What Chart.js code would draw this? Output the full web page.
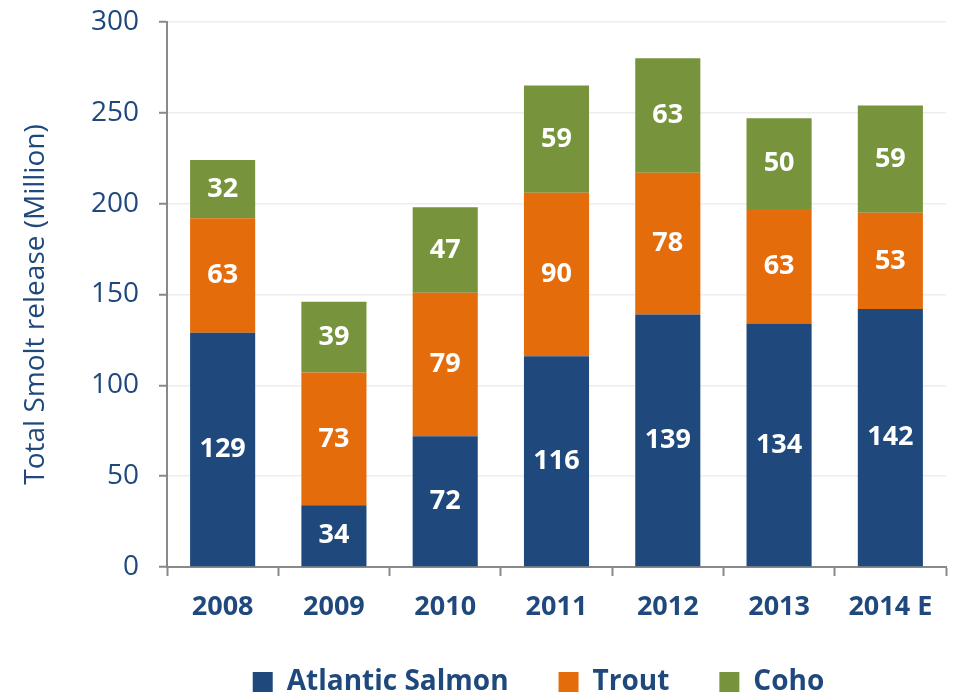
<!DOCTYPE html>
<html><head><meta charset="utf-8">
<script src="https://cdn.jsdelivr.net/npm/chart.js@4/dist/chart.umd.min.js"></script>
<style>html,body{margin:0;padding:0;background:#fff;overflow:hidden}</style>
</head><body>
<canvas id="c" width="957" height="693"></canvas>
<script>
const categories = ['2008', '2009', '2010', '2011', '2012', '2013', '2014 E'];
const atlanticSalmon = [129, 34, 72, 116, 139, 134, 142];
const trout = [63, 73, 79, 90, 78, 63, 53];
const coho = [32, 39, 47, 59, 63, 50, 59];
const yMin = 0, yMax = 300, yStep = 50;

const TEXT = '#1F497D';
const AXIS = '#898989';
const FONT = 'Open Sans';

const segLabels = {
  id: 'segLabels',
  afterDatasetsDraw(chart) {
    const ctx = chart.ctx;
    ctx.save();
    ctx.font = 'bold 27px "' + FONT + '"';
    ctx.fillStyle = '#FFFFFF';
    ctx.textAlign = 'center';
    ctx.textBaseline = 'middle';
    chart.data.datasets.forEach((ds, i) => {
      const meta = chart.getDatasetMeta(i);
      meta.data.forEach((bar, j) => {
        const p = bar.getProps(['x', 'y', 'base'], true);
        ctx.fillText(String(ds.data[j]), p.x, (p.y + p.base) / 2);
      });
    });
    ctx.restore();
  }
};

const LEG_DX = -18, LEG_DY = -11, LEG_H = 64, TITLE_DY = 10;
const layoutTweaks = {
  id: 'layoutTweaks',
  beforeLayout(chart) {
    const l = chart.legend;
    if (l && !l._hPatched) {
      const f = l.fit.bind(l);
      l.fit = function () { f(); this.height = LEG_H; };
      l._hPatched = true;
    }
  },
  afterLayout(chart) {
    const l = chart.legend;
    if (l) {
      l.left += LEG_DX; l.right += LEG_DX;
      l.top += LEG_DY;
    }
    const y = chart.scales.y;
    if (y && !y._tPatched) {
      const orig = y.drawTitle.bind(y);
      y.drawTitle = function () {
        const t = this.top, b = this.bottom;
        this.top = t + TITLE_DY; this.bottom = b + TITLE_DY;
        orig();
        this.top = t; this.bottom = b;
      };
      y._tPatched = true;
    }
  }
};

function build() {
  new Chart(document.getElementById('c'), {
    type: 'bar',
    data: {
      labels: categories,
      datasets: [
        { label: 'Atlantic Salmon', data: atlanticSalmon, backgroundColor: '#1F497D' },
        { label: 'Trout', data: trout, backgroundColor: '#E46C0A' },
        { label: 'Coho', data: coho, backgroundColor: '#77933C' }
      ]
    },
    options: {
      responsive: false,
      animation: false,
      devicePixelRatio: 1,
      layout: { padding: { top: 22, right: 11, left: 0, bottom: 0 } },
      datasets: { bar: { barPercentage: 0.585, categoryPercentage: 1.0 } },
      plugins: {
        legend: {
          position: 'bottom',
          fullSize: false,
          labels: {
            boxWidth: 20, boxHeight: 20, padding: 50,
            color: TEXT,
            font: { family: FONT, size: 28, weight: 'bold' }
          }
        },
        tooltip: { enabled: false }
      },
      scales: {
        x: {
          stacked: true,
          grid: { offset: true, drawOnChartArea: false, drawTicks: true, tickLength: 9, tickColor: AXIS, tickWidth: 2 },
          border: { color: AXIS, width: 2 },
          ticks: { color: TEXT, font: { family: FONT, size: 27, weight: 'bold' }, padding: 15, maxRotation: 0, autoSkip: false },
          afterFit(s) { s.height = 62; }
        },
        y: {
          stacked: true,
          min: yMin, max: yMax,
          ticks: { stepSize: yStep, color: TEXT, font: { family: FONT, size: 28 }, padding: 20 },
          grid: { color: '#EDEDED', lineWidth: 1.5, tickColor: AXIS, tickLength: 8, tickWidth: 2 },
          border: { color: AXIS, width: 2 },
          title: { display: true, text: 'Total Smolt release (Million)', color: TEXT, font: { family: FONT, size: 28 }, padding: { top: 19, bottom: 0 } },
          afterFit(s) { s.width = 167; s.paddingTop = 0; s.paddingBottom = 0; }
        }
      }
    },
    plugins: [segLabels, layoutTweaks]
  });
}

Promise.all([
  document.fonts.load('28px "Open Sans"'),
  document.fonts.load('bold 28px "Open Sans"')
]).then(build, build);
</script>
</body></html>
